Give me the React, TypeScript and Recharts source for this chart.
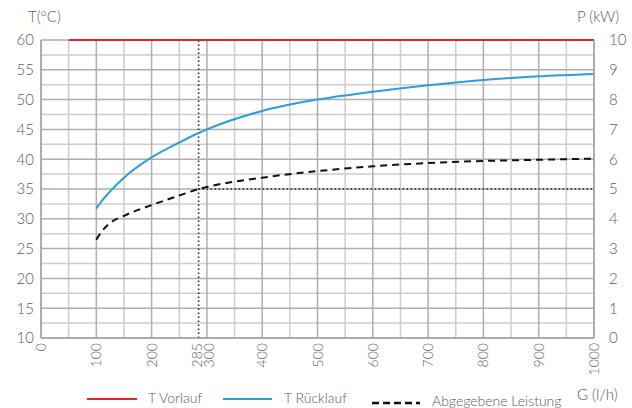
import { LineChart, Line, XAxis, YAxis, CartesianGrid, ReferenceLine } from "recharts";

// Volumenstrom G (l/h) and curves
const flow = [50, 100, 110, 125, 150, 200, 250, 285, 300, 400, 500, 600, 700, 800, 900, 1000];
const vorlauf = [60, null, null, null, null, null, null, null, null, null, null, null, null, null, null, 60];
const ruecklauf = [null, 31.7, 33.0, 34.6, 36.9, 40.3, 42.8, 44.4, 45.0, 48.1, 50.0, 51.3, 52.4, 53.3, 53.9, 54.3];
const leistung = [null, 3.3, 3.58, 3.86, 4.1, 4.46, 4.78, 5.0, 5.07, 5.38, 5.6, 5.76, 5.87, 5.94, 5.98, 6.02];

const xTicks = [0, 100, 200, 285, 300, 400, 500, 600, 700, 800, 900, 1000];
const tTicks = [10, 15, 20, 25, 30, 35, 40, 45, 50, 55, 60];
const pTicks = [0, 1, 2, 3, 4, 5, 6, 7, 8, 9, 10];
const xMinor = [50, 150, 250, 350, 450, 550, 650, 750, 850, 950];
const tMinor = [12.5, 17.5, 22.5, 27.5, 32.5, 37.5, 42.5, 47.5, 52.5, 57.5];

const operatingPoint = { flow: 285, temp: 35 };

const data = flow.map((g, i) => ({
  g,
  vorlauf: vorlauf[i],
  ruecklauf: ruecklauf[i],
  leistung: leistung[i],
}));

const FONT = "Lato, 'DejaVu Sans', sans-serif";
const TEXT = "#5a5a5e";
const RED = "#e3242b";
const BLUE = "#2a9fd9";

// 285 and 300 sit close together, nudge them apart a little
const tickNudge: Record<number, number> = { 285: -1.5, 300: 2 };

function RotatedTick(props: any) {
  const { x, y, payload } = props;
  const cx = x + (tickNudge[payload.value] ?? 0);
  return (
    <text
      x={cx}
      y={y}
      transform={`rotate(-90, ${cx}, ${y})`}
      textAnchor="end"
      dy="0.36em"
      fill={TEXT}
      fontSize={14}
      fontWeight={300}
      fontFamily={FONT}
    >
      {payload.value}
    </text>
  );
}

const label = (left: number, top: number, text: string) => (
  <div
    style={{
      position: "absolute",
      left,
      top,
      fontSize: 15,
      fontWeight: 300,
      color: TEXT,
      fontFamily: FONT,
      whiteSpace: "nowrap",
    }}
  >
    {text}
  </div>
);

export default function App() {
  const tick = { fill: TEXT, fontSize: 15, fontWeight: 300, fontFamily: FONT };
  return (
    <div style={{ position: "absolute", left: 0, top: 0, width: 632, height: 408, background: "#fff" }}>
      <LineChart width={632} height={408} data={data} margin={{ top: 40, right: 8, bottom: 0, left: 6 }}>
        <CartesianGrid
          yAxisId="t"
          stroke="#cdcdd0"
          strokeWidth={1.5}
          horizontalValues={tMinor}
          verticalValues={xMinor}
        />
        <CartesianGrid
          yAxisId="t"
          stroke="#aeaeb3"
          strokeWidth={1.5}
          horizontalValues={tTicks}
          verticalValues={xTicks.filter((v) => v % 100 === 0)}
        />
        <XAxis
          dataKey="g"
          type="number"
          domain={[0, 1000]}
          ticks={xTicks}
          interval={0}
          height={70}
          tickSize={0}
          tickMargin={5}
          tickLine={false}
          axisLine={{ stroke: "#a4a4a8", strokeWidth: 1.5 }}
          tick={<RotatedTick />}
        />
        <YAxis
          yAxisId="t"
          domain={[10, 60]}
          ticks={tTicks}
          interval={0}
          width={35}
          tickSize={0}
          tickMargin={7}
          tickLine={false}
          axisLine={{ stroke: "#a4a4a8", strokeWidth: 1.5 }}
          tick={tick}
        />
        <YAxis
          yAxisId="p"
          orientation="right"
          domain={[0, 10]}
          ticks={pTicks}
          interval={0}
          width={30}
          tickSize={0}
          tickMargin={15}
          tickLine={false}
          axisLine={{ stroke: "#a4a4a8", strokeWidth: 1.5 }}
          tick={{ ...tick, textAnchor: "start" }}
        />
        <ReferenceLine
          yAxisId="t"
          x={operatingPoint.flow}
          stroke="#222"
          strokeWidth={1.5}
          strokeDasharray="1.5 2.5"
        />
        <ReferenceLine
          yAxisId="t"
          segment={[
            { x: operatingPoint.flow, y: operatingPoint.temp },
            { x: 1000, y: operatingPoint.temp },
          ]}
          stroke="#222"
          strokeWidth={1.5}
          strokeDasharray="1.5 2.5"
        />
        <Line
          yAxisId="t"
          dataKey="vorlauf"
          stroke={RED}
          strokeWidth={2}
          dot={false}
          connectNulls
          isAnimationActive={false}
        />
        <Line
          yAxisId="t"
          type="monotone"
          dataKey="ruecklauf"
          stroke={BLUE}
          strokeWidth={2}
          dot={false}
          isAnimationActive={false}
        />
        <Line
          yAxisId="p"
          type="monotone"
          dataKey="leistung"
          stroke="#111"
          strokeWidth={2}
          strokeDasharray="7 5"
          dot={false}
          isAnimationActive={false}
        />
      </LineChart>

      {label(28, 7, "T(°C)")}
      {label(577, 7, "P (kW)")}
      {label(577, 385, "G (l/h)")}

      <svg style={{ position: "absolute", left: 0, top: 385 }} width={632} height={23}>
        <line x1={87} x2={137} y1={14} y2={14} stroke={RED} strokeWidth={2} />
        <line x1={223} x2={272} y1={14} y2={14} stroke={BLUE} strokeWidth={2} />
        <line x1={372} x2={420} y1={18} y2={18} stroke="#111" strokeWidth={2.5} strokeDasharray="7 4" />
        <g fill={TEXT} fontSize={14} fontWeight={300} fontFamily={FONT}>
          <text x={148} y={18}>T Vorlauf</text>
          <text x={284} y={18}>T Rücklauf</text>
          <text x={432} y={21}>Abgegebene Leistung</text>
        </g>
      </svg>
    </div>
  );
}
